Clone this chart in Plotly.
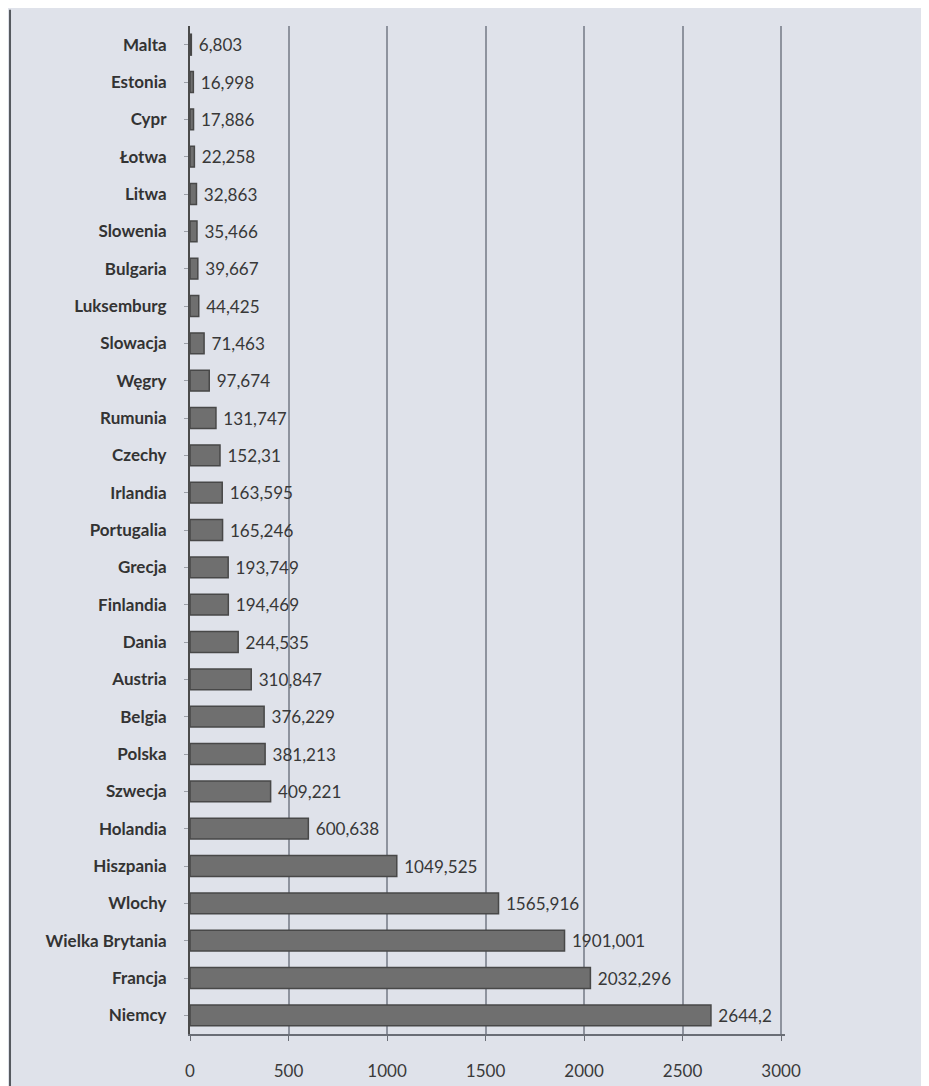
import plotly.graph_objects as go

countries = ["Malta", "Estonia", "Cypr", "Łotwa", "Litwa", "Slowenia", "Bulgaria",
             "Luksemburg", "Slowacja", "Węgry", "Rumunia", "Czechy", "Irlandia",
             "Portugalia", "Grecja", "Finlandia", "Dania", "Austria", "Belgia",
             "Polska", "Szwecja", "Holandia", "Hiszpania", "Wlochy",
             "Wielka Brytania", "Francja", "Niemcy"]
values = [6.803, 16.998, 17.886, 22.258, 32.863, 35.466, 39.667, 44.425, 71.463,
          97.674, 131.747, 152.31, 163.595, 165.246, 193.749, 194.469, 244.535,
          310.847, 376.229, 381.213, 409.221, 600.638, 1049.525, 1565.916,
          1901.001, 2032.296, 2644.2]
labels = [" " + str(v).replace(".", ",") for v in values]
x_ticks = [0, 500, 1000, 1500, 2000, 2500, 3000]

fig = go.Figure(go.Bar(
    x=values, y=countries, orientation="h",
    text=labels, textposition="outside", cliponaxis=False,
    textfont=dict(family="Lato, Open Sans, sans-serif", size=18, color="#383838"),
    marker=dict(color="#6f6f6f", line=dict(color="#484848", width=1.5)),
    width=0.56,
))

fig.update_layout(
    width=929, height=1086,
    margin=dict(l=182, r=152, t=18, b=60),
    paper_bgcolor="#dfe2ea", plot_bgcolor="#dfe2ea",
    showlegend=False,
    font=dict(family="Lato, Open Sans, sans-serif", color="#3a3a3a"),
    xaxis=dict(range=[0, 3020], tickvals=x_ticks, ticktext=[str(t) for t in x_ticks],
               showgrid=True, gridcolor="#8e939e", gridwidth=2,
               showline=True, linecolor="#6a6e76", linewidth=2,
               ticks="outside", ticklen=5, tickcolor="#6a6e76",
               tickfont=dict(size=17, color="#3a3a3a"), zeroline=False,
               ticklabelstandoff=16),
    yaxis=dict(autorange="reversed", showline=True, linecolor="#4a4a4a", linewidth=2,
               ticks="outside", ticklen=4, tickcolor="#9a9ea6",
               tickfont=dict(size=17, color="#333333", family="Lato, sans-serif",
                             weight="bold"),
               ticklabelstandoff=14),
    shapes=[dict(type="line", xref="paper", yref="paper", x0=-0.3025, x1=-0.3025,
                 y0=-0.07, y1=1.016, line=dict(color="#55595f", width=2))],
)

fig.write_html("out.html")
